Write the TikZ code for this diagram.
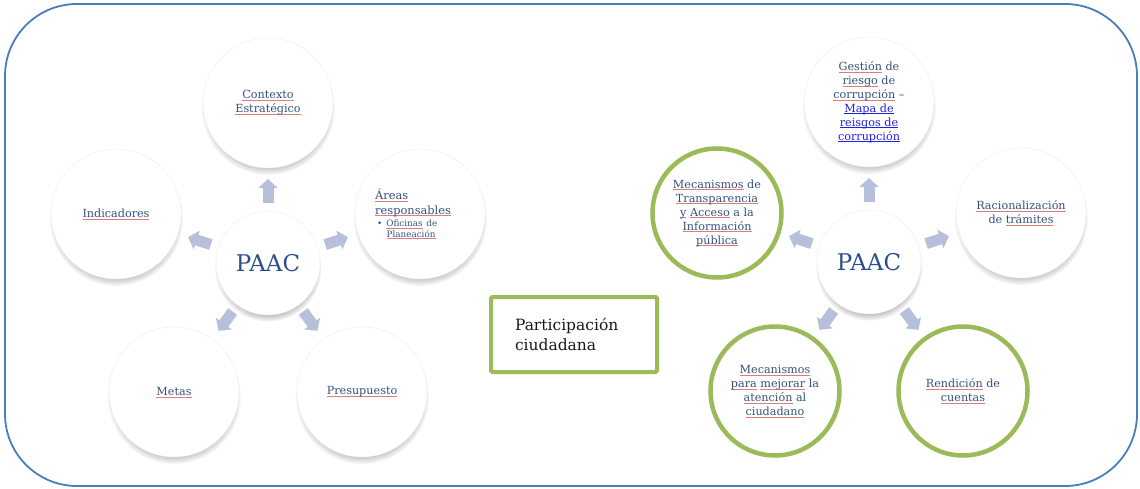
\documentclass[tikz,border=0pt]{standalone}
\usepackage{fontspec}
\setmainfont{DejaVu Serif}
\usetikzlibrary{shadows,calc,arrows.meta}
\definecolor{frameblue}{HTML}{4A7EBB}
\definecolor{txtblue}{HTML}{34527F}
\definecolor{paacblue}{HTML}{2B4F8A}
\definecolor{grn}{HTML}{9BBB59}
\definecolor{arrowc}{HTML}{B7C0DA}
\definecolor{squig}{HTML}{E27A7A}
\definecolor{linkblue}{HTML}{2222E0}
\newcommand\rul[1]{\leavevmode\setbox0\hbox{#1}\rlap{\textcolor{squig}{\rule[-1.8pt]{\wd0}{0.45pt}}}\box0\relax}
\newcommand\lnk[1]{\leavevmode\setbox0\hbox{\color{linkblue}#1}\rlap{\textcolor{linkblue}{\rule[-1.6pt]{\wd0}{0.5pt}}}\box0\relax}
\tikzset{
  lbl/.style={text=txtblue, align=center, font=\fontsize{11.2}{14}\selectfont},
  wc/.style={circle, fill=white, draw=black!7, line width=0.4pt, minimum size=130pt, inner sep=0pt,
    circular drop shadow={shadow xshift=0pt, shadow yshift=-5pt, shadow scale=1.03, opacity=0.55}, lbl},
  pc/.style={wc, minimum size=104pt, text=paacblue, font=\fontsize{23}{26}\selectfont},
  gc/.style={circle, fill=white, draw=grn, line width=4.5pt, minimum size=129pt, inner sep=0pt, lbl},
  blk/.style={draw=arrowc, line width=11pt, -{Triangle[length=9pt,width=19pt]}},
  frame/.style={draw=frameblue, line width=1.8pt, rounded corners=72pt, fill=white},
  pbox/.style={draw=grn, line width=4pt, rounded corners=1.5pt, fill=white, minimum width=166pt,
    minimum height=75pt, text width=118pt, inner xsep=0pt, align=left, text=black!90,
    font=\fontsize{15.5}{20.5}\selectfont},
}
\begin{document}
\begin{tikzpicture}[x=1pt,y=-1pt]
\useasboundingbox (0,0) rectangle (1140,489);
\fill[white] (0,0) rectangle (1140,489);
\node[frame, minimum width=1132pt, minimum height=482pt] (frm) at (571,245) {};

% left group
\node[pc] (pL) at (268,263) {PAAC};
\node[wc] (ctx) at (268,103) {\rul{Contexto}\\\rul{Estratégico}};
\node[wc] (are) at (420,214) {};
\node[text=txtblue, anchor=west, align=left, text width=84pt, inner sep=0pt, font=\fontsize{11.4}{14.5}\selectfont] (areT) at (375,214) {\rul{Áreas}\par\rul{responsables}\par\vspace{2pt}\fontsize{8.8}{10.5}\selectfont\hspace*{2pt}\textbullet\hspace{4pt}\rul{Oficinas} de\par\hspace*{11.5pt}\rul{Planeación}\par};
\node[wc] (ind) at (116,214) {\rul{Indicadores}};
\node[wc] (met) at (174,392) {\rul{Metas}};
\node[wc] (pre) at (362,392) {\rul{Presupuesto}};

\foreach \t in {ctx,are,ind,met,pre}
  \draw[blk] ($(pL)!60pt!(\t)$) -- ($(pL)!84pt!(\t)$);

% right group
\node[pc] (pR) at (869,262) {PAAC};
\node[wc] (ges) at (869,102) {\rul{Gestión} de\\\rul{riesgo} de\\\rul{corrupción} –\\\lnk{Mapa de}\\\lnk{reisgos de}\\\lnk{corrupción}};
\node[wc] (rac) at (1021,213) {\rul{Racionalización}\\de \rul{trámites}};
\node[gc] (tra) at (717,213) {\rul{Mecanismos} de\\\rul{Transparencia}\\\rul{y} \rul{Acceso} a la\\\rul{Información}\\\rul{pública}};
\node[gc] (ate) at (775,391) {\rul{Mecanismos}\\\rul{para} \rul{mejorar} la\\\rul{atención} al\\\rul{ciudadano}};
\node[gc] (ren) at (963,391) {\rul{Rendición} de\\\rul{cuentas}};

\foreach \t in {ges,rac,tra,ate,ren}
  \draw[blk] ($(pR)!60pt!(\t)$) -- ($(pR)!84pt!(\t)$);

% box
\node[pbox] (par) at (574,334.5) {Participación\\ciudadana};
\end{tikzpicture}
\end{document}
